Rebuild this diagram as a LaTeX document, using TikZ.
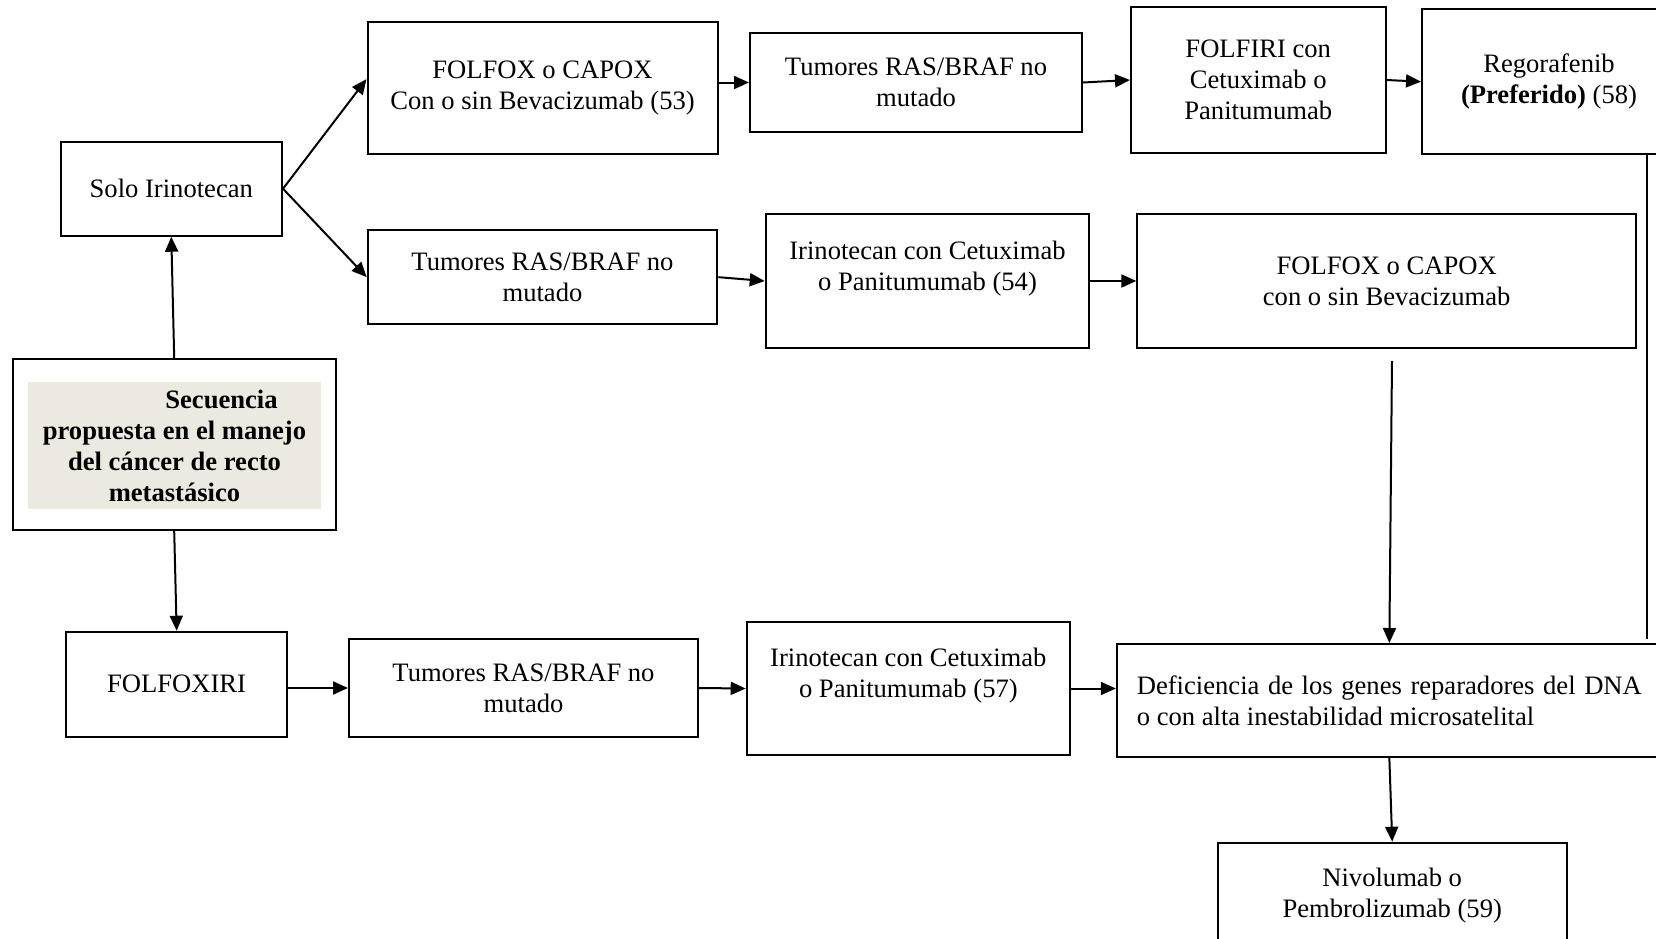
\documentclass[tikz,border=0pt]{standalone}
\usepackage{fontspec}
\setmainfont{Liberation Serif}
\usetikzlibrary{arrows.meta}
\definecolor{fondo}{RGB}{236,234,224}

\begin{document}
\begin{tikzpicture}[x=0.5pt,y=-0.5pt,
    caja/.style={draw,line width=1pt,inner sep=0pt,align=center,
      font=\fontsize{13.3pt}{15.5pt}\selectfont},
    flecha/.style={line width=1pt,-{Triangle[length=7.5pt,width=6.5pt]}}]
  \useasboundingbox (0,0) rectangle (1656,938);
  \clip (0,0) rectangle (1656,938);
  \node[caja,minimum width=110.7pt,minimum height=47pt] (solo) at (171.3,188.7) {Solo Irinotecan};
  \node[caja,minimum width=175pt,minimum height=65.75pt] (fox1) at (542.5,87.75) {FOLFOX o CAPOX\\Con o sin Bevacizumab (53)};
  \node[caja,minimum width=166pt,minimum height=49.2pt] (ras1) at (916,82.5) {Tumores RAS/BRAF no\\mutado};
  \node[caja,minimum width=127.25pt,minimum height=72.65pt] (firi) at (1258.25,80) {FOLFIRI con\\Cetuximab o\\Panitumumab};
  \node[caja,minimum width=127pt,minimum height=72.65pt] (rego) at (1549,81.65) {Regorafenib\\\textbf{(Preferido)} (58)};
  \node[caja,minimum width=174.8pt,minimum height=47.15pt] (ras2) at (542.5,277.15) {Tumores RAS/BRAF no\\mutado};
  \node[caja,minimum width=161.8pt,minimum height=66.7pt] (iri54) at (927.5,281) {Irinotecan con Cetuximab\\o Panitumumab (54)\\\mbox{}};
  \node[caja,minimum width=249.35pt,minimum height=66.7pt] (fox2) at (1386.65,281) {FOLFOX o CAPOX\\con o sin Bevacizumab};
  \node[draw,line width=1pt,minimum width=161.5pt,minimum height=85.5pt] (sec) at (174.2,444.5) {};
  \node[fill=fondo,inner sep=0pt,minimum width=146.2pt,minimum height=63.8pt,align=center,
    font=\bfseries\fontsize{13.3pt}{15.5pt}\selectfont] (titulo) at (174.5,445.5)
    {\hspace*{47pt}Secuencia\\propuesta en el manejo\\del cáncer de recto\\metastásico};
  \node[caja,minimum width=110.65pt,minimum height=52.5pt] (firox) at (176.65,684.2) {FOLFOXIRI};
  \node[caja,minimum width=174.5pt,minimum height=48.7pt] (ras3) at (523.5,688) {Tumores RAS/BRAF no\\mutado};
  \node[caja,minimum width=161.65pt,minimum height=66.5pt] (iri57) at (908.35,688.5) {Irinotecan con Cetuximab\\o Panitumumab (57)\\\mbox{}};
  \node[caja,align=justify,text width=252.5pt,inner xsep=10pt,minimum height=56.35pt] (dna) at (1389.35,700.35)
    {Deficiencia de los genes reparadores del DNA\linebreak o con alta inestabilidad microsatelital};
  \node[caja,minimum width=174.5pt,minimum height=53.15pt] (nivo) at (1392.2,895.85) {Nivolumab o\\Pembrolizumab (59)};
  \coordinate (fin) at (1646.7,639);
  \coordinate (ini) at (1392,361);
  \draw[flecha] (sec.north) -- (solo.south);
  \draw[flecha] (sec.south) -- (firox.north);
  \draw[flecha] (solo.east) -- ([yshift=4.3pt]fox1.west);
  \draw[flecha] (solo.east) -- (ras2.west);
  \draw[flecha] (fox1.east |- ras1.west) -- (ras1.west);
  \draw[flecha] (ras1.east) -- (firi.west);
  \draw[flecha] (firi.east) -- (rego.west);
  \draw[line width=1pt] (fin |- rego.south) -- (fin);
  \draw[flecha] (ras2.east) -- (iri54.west);
  \draw[flecha] (iri54.east) -- (fox2.west);
  \draw[flecha] (ini) -- (dna.north);
  \draw[flecha] (firox.east |- ras3.west) -- (ras3.west);
  \draw[flecha] (ras3.east) -- (iri57.west);
  \draw[flecha] (iri57.east) -- (iri57.east -| dna.west);
  \draw[flecha] (dna.south) -- (nivo.north);
\end{tikzpicture}
\end{document}
